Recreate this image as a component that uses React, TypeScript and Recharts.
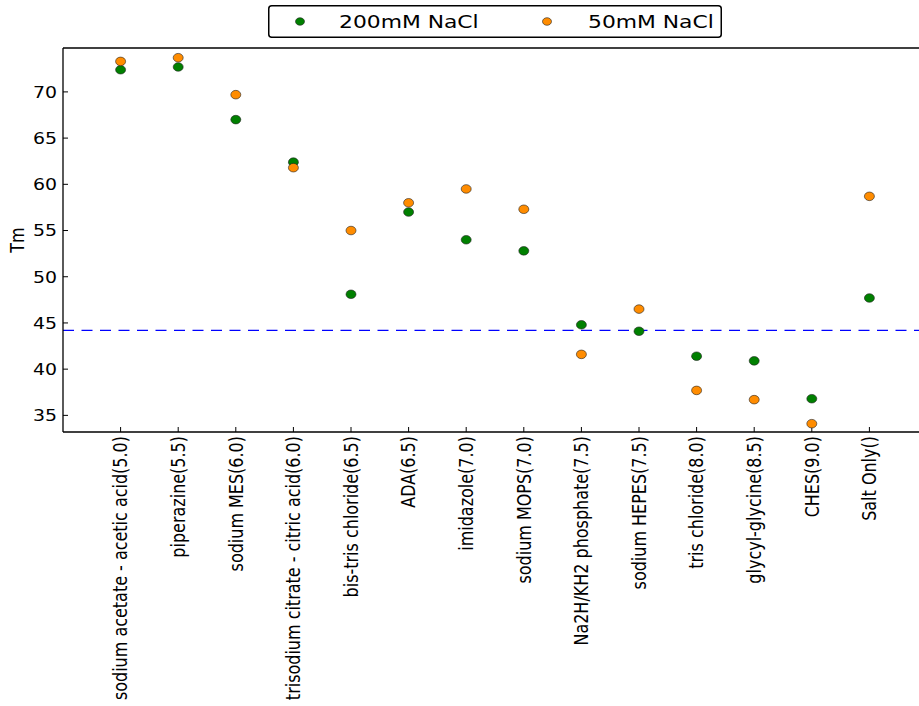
import React from "react";
import {
  ScatterChart,
  Scatter,
  XAxis,
  YAxis,
  ReferenceLine,
  Legend,
  Label,
} from "recharts";

// buffer (pH) per column
const buffers = [
  "sodium acetate - acetic acid(5.0)",
  "piperazine(5.5)",
  "sodium MES(6.0)",
  "trisodium citrate - citric acid(6.0)",
  "bis-tris chloride(6.5)",
  "ADA(6.5)",
  "imidazole(7.0)",
  "sodium MOPS(7.0)",
  "Na2H/KH2 phosphate(7.5)",
  "sodium HEPES(7.5)",
  "tris chloride(8.0)",
  "glycyl-glycine(8.5)",
  "CHES(9.0)",
  "Salt Only()",
];

const tm200 = [72.4, 72.7, 67.0, 62.4, 48.1, 57.0, 54.0, 52.8, 44.8, 44.1, 41.4, 40.9, 36.8, 47.7];
const tm50 = [73.3, 73.7, 69.7, 61.8, 55.0, 58.0, 59.5, 57.3, 41.6, 46.5, 37.7, 36.7, 34.1, 58.7];
const baselineTm = 44.2;

const yTicks = [35, 40, 45, 50, 55, 60, 65, 70];
const xTicks = buffers.map((_, i) => i);

const FONT = "'DejaVu Sans', sans-serif";
const SX = 1.18; // glyphs are drawn slightly wide

const GREEN = "#008000";
const ORANGE = "#ff8c00";

const dot = (color: string) => (props: any) => (
  <ellipse
    cx={props.cx}
    cy={props.cy}
    rx={5}
    ry={4.3}
    fill={color}
    stroke="#222"
    strokeWidth={0.6}
  />
);

const BufferTick = ({ x, y, payload }: any) => (
  <g transform={`translate(${x},${y}) scale(${SX},1) rotate(-90)`}>
    <text x={0} y={0} dy="0.36em" textAnchor="end" fontSize={16} fontFamily={FONT} fill="#000">
      {buffers[payload.value]}
    </text>
  </g>
);

const TmTick = ({ x, y, payload }: any) => (
  <g transform={`translate(${x},${y}) scale(${SX},1)`}>
    <text x={0} y={0} dy="0.36em" textAnchor="end" fontSize={16} fontFamily={FONT} fill="#000">
      {payload.value}
    </text>
  </g>
);

const TmLabel = (props: any) => {
  const { x, y, height } = props.viewBox;
  return (
    <g transform={`translate(${x + 17},${y + height / 2}) scale(${SX},1) rotate(-90)`}>
      <text x={0} y={0} dy="0.36em" textAnchor="middle" fontSize={16} fontFamily={FONT} fill="#000">
        Tm
      </text>
    </g>
  );
};

const LegendBox = (props: any) => {
  const items = props.payload ?? [];
  const slots = [
    { dot: 32, text: 71 },
    { dot: 279, text: 320 },
  ];
  return (
    <svg width={454} height={33} style={{ display: "block" }}>
      <rect x={0.75} y={0.75} width={452.5} height={31.5} rx={3} fill="#fff" stroke="#000" strokeWidth={1.5} />
      {items.map((it: any, i: number) => (
        <g key={it.value}>
          <ellipse cx={slots[i].dot} cy={16.5} rx={4.5} ry={3.8} fill={it.color} stroke="#222" strokeWidth={0.6} />
          <g transform={`translate(${slots[i].text},23.3) scale(${SX},1)`}>
            <text x={0} y={0} fontSize={18.5} fontFamily={FONT} fill="#000">
              {it.value}
            </text>
          </g>
        </g>
      ))}
    </svg>
  );
};

export default function App() {
  const data200 = tm200.map((v, i) => ({ x: i, y: v }));
  const data50 = tm50.map((v, i) => ({ x: i, y: v }));

  return (
    <div
      style={{
        position: "fixed",
        left: 0,
        top: 0,
        width: 919,
        height: 706,
        overflow: "hidden",
        background: "#fff",
      }}
    >
      <ScatterChart width={940} height={706} margin={{ top: 47, right: 12, bottom: 0, left: 0 }}>
        <XAxis
          dataKey="x"
          type="number"
          domain={[-1, 14]}
          ticks={xTicks}
          interval={0}
          allowDataOverflow
          height={274}
          tickSize={-5}
          tickMargin={9}
          tick={<BufferTick />}
          axisLine={{ stroke: "#000", strokeWidth: 1.3 }}
          tickLine={{ stroke: "#000" }}
        />
        <XAxis
          xAxisId="top"
          orientation="top"
          type="number"
          domain={[-1, 14]}
          ticks={xTicks}
          interval={0}
          allowDataOverflow
          height={1}
          tickSize={-5}
          tick={false}
          axisLine={{ stroke: "#000", strokeWidth: 1.3 }}
          tickLine={{ stroke: "#000" }}
        />
        <YAxis
          dataKey="y"
          type="number"
          domain={[33.2, 74.75]}
          ticks={yTicks}
          interval={0}
          allowDataOverflow
          width={63}
          tickSize={-5}
          tickMargin={11}
          tick={<TmTick />}
          axisLine={{ stroke: "#000", strokeWidth: 1.3 }}
          tickLine={{ stroke: "#000" }}
        >
          <Label content={TmLabel} />
        </YAxis>
        <YAxis
          yAxisId="right"
          orientation="right"
          type="number"
          domain={[33.2, 74.75]}
          ticks={yTicks}
          interval={0}
          allowDataOverflow
          width={1}
          tickSize={-5}
          tick={false}
          axisLine={{ stroke: "#000", strokeWidth: 1.3 }}
          tickLine={{ stroke: "#000" }}
        />
        <ReferenceLine
          y={baselineTm}
          stroke="#0000ff"
          strokeWidth={1.3}
          strokeDasharray="11 7.5"
        />
        <Scatter
          name="200mM NaCl"
          data={data200}
          fill={GREEN}
          shape={dot(GREEN)}
          isAnimationActive={false}
        />
        <Scatter
          name="50mM NaCl"
          data={data50}
          fill={ORANGE}
          shape={dot(ORANGE)}
          isAnimationActive={false}
        />
        <Legend
          verticalAlign="middle"
          align="center"
          content={<LegendBox />}
          wrapperStyle={{ top: 5, left: 268, width: 454, height: 33 }}
        />
      </ScatterChart>
    </div>
  );
}
